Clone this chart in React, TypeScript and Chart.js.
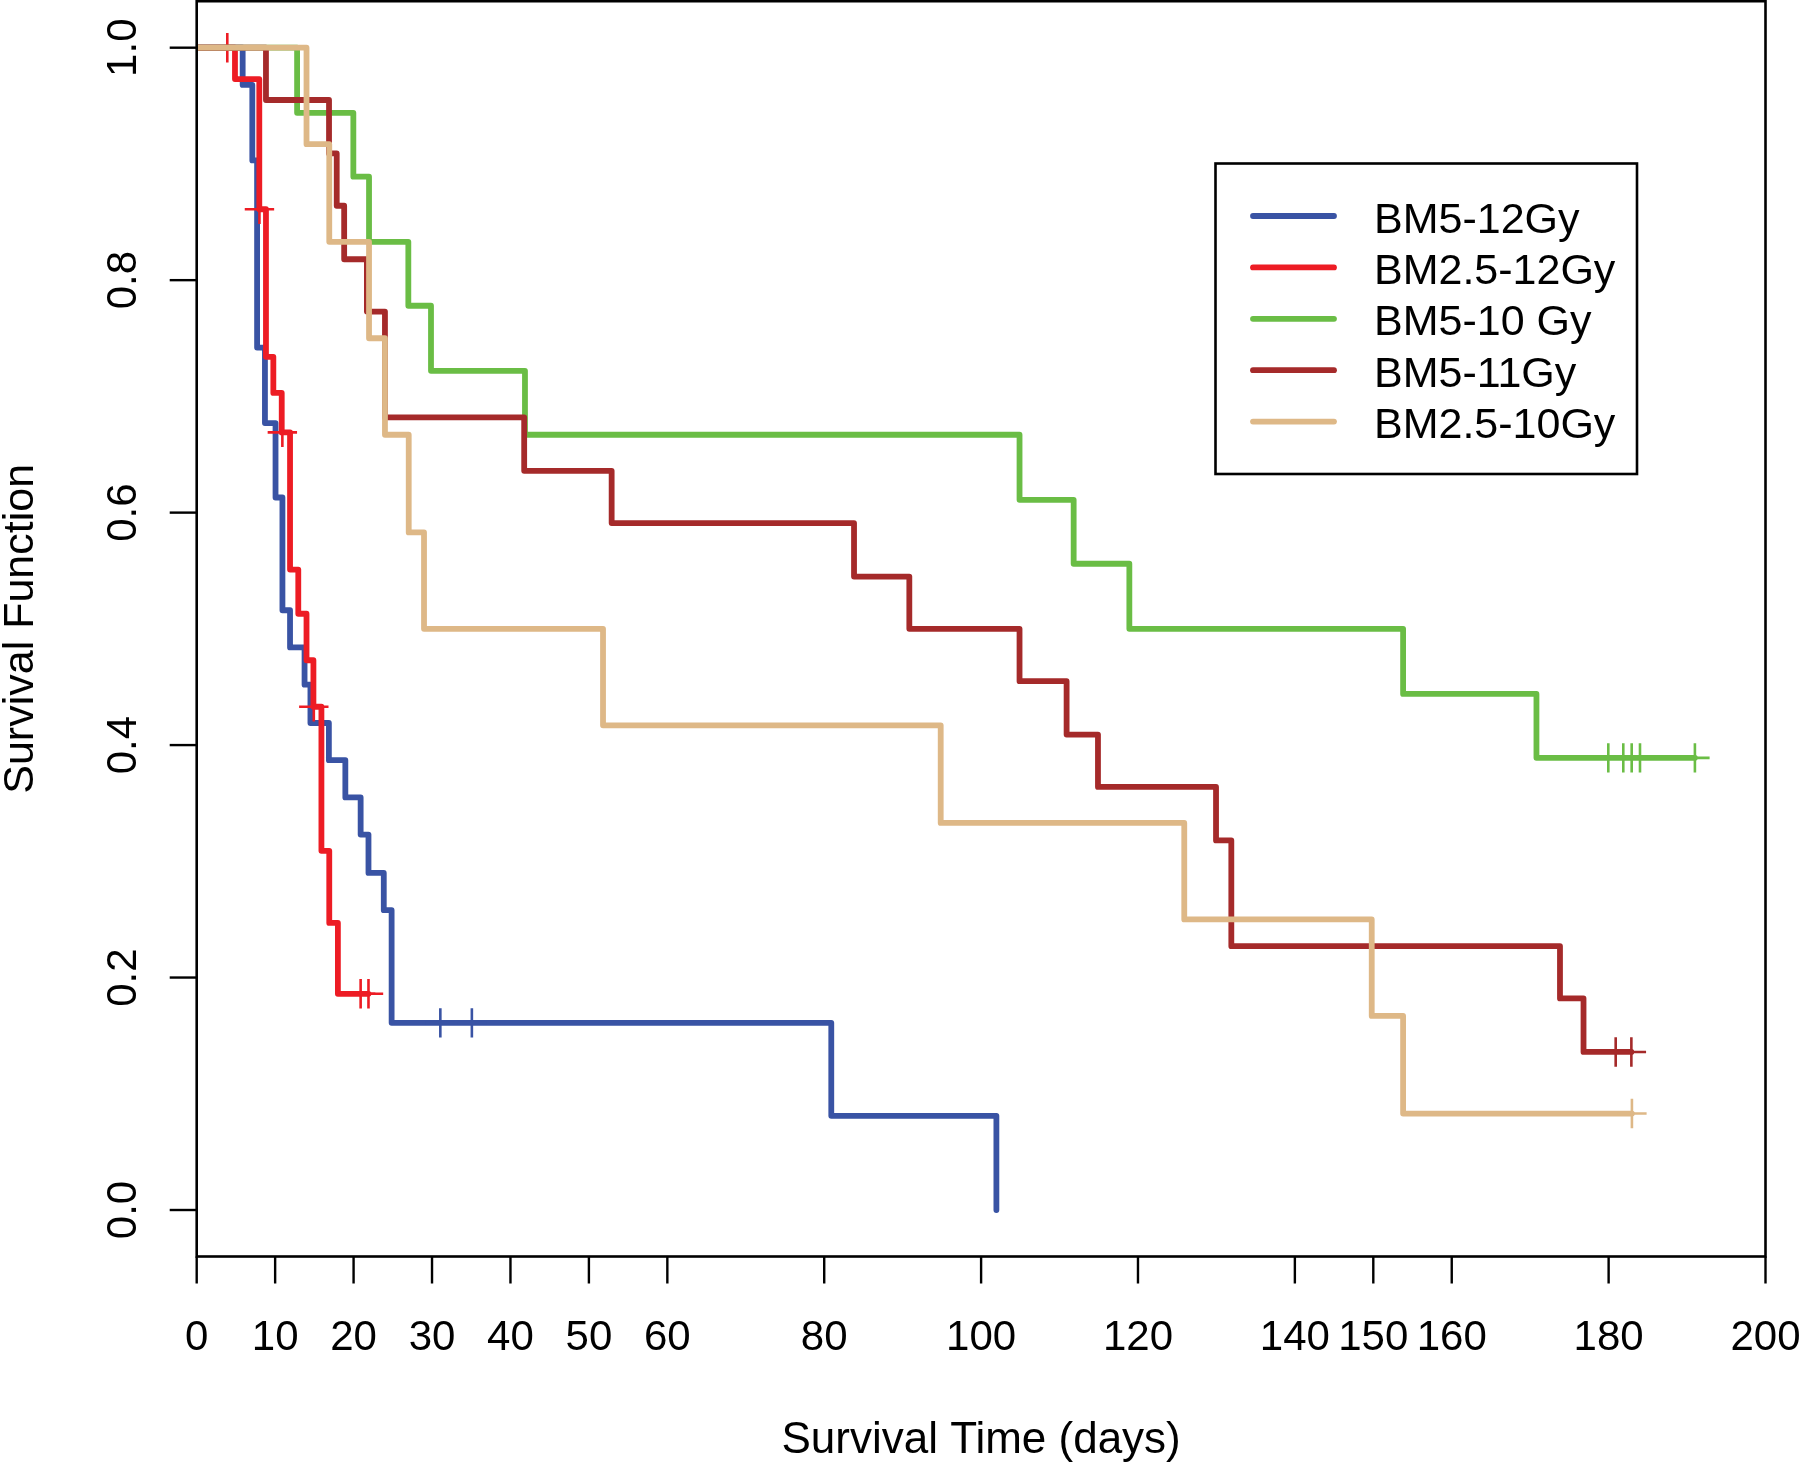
import React, { useEffect, useRef } from "react";
import { Chart, registerables } from "chart.js";

Chart.register(...registerables);

// ---------- data ----------
const seriesLabels = ["BM5-12Gy", "BM2.5-12Gy", "BM5-10 Gy", "BM5-11Gy", "BM2.5-10Gy"];
const seriesColors = ["#3953A4", "#ED1C24", "#6ABD45", "#A52A2A", "#DEB887"];

// BM5-12Gy
const bm512Time = [0, 5.86, 7.09, 7.7, 8.7, 10.05, 10.93, 11.9, 13.75, 14.5, 16.85, 18.95, 20.9, 21.9, 23.85, 24.85, 80.9, 101.95];
const bm512Surv = [1, 0.968, 0.903, 0.742, 0.677, 0.613, 0.516, 0.484, 0.452, 0.419, 0.387, 0.355, 0.323, 0.29, 0.258, 0.161, 0.081, 0];
const bm512CensorTime = [31.06, 35.08];
const bm512CensorSurv = [0.161, 0.161];

// BM2.5-12Gy
const bm2512Time = [0, 4.88, 7.98, 8.83, 9.77, 10.84, 11.9, 12.95, 14.0, 14.88, 15.9, 16.9, 18.0, 21.9];
const bm2512Surv = [1, 0.973, 0.861, 0.734, 0.703, 0.669, 0.551, 0.513, 0.473, 0.433, 0.309, 0.247, 0.186, 0.186];
const bm2512CensorTime = [3.9, 8.0, 10.92, 14.93, 20.9, 21.9];
const bm2512CensorSurv = [1, 0.861, 0.669, 0.433, 0.186, 0.186];

// BM5-10 Gy
const bm510Time = [0, 12.8, 19.97, 21.97, 26.98, 29.87, 41.85, 104.9, 111.8, 118.9, 153.8, 170.8, 191.0];
const bm510Surv = [1, 0.944, 0.889, 0.833, 0.778, 0.722, 0.667, 0.611, 0.556, 0.5, 0.444, 0.389, 0.389];
const bm510CensorTime = [179.96, 181.87, 182.94, 184.0, 191.0];
const bm510CensorSurv = [0.389, 0.389, 0.389, 0.389, 0.389];

// BM5-11Gy
const bm511Time = [0, 8.83, 16.87, 17.85, 18.8, 21.7, 24.0, 41.75, 52.9, 83.8, 90.85, 104.9, 110.9, 114.9, 129.95, 131.9, 173.8, 176.8, 182.9];
const bm511Surv = [1, 0.955, 0.909, 0.864, 0.818, 0.773, 0.682, 0.636, 0.591, 0.545, 0.5, 0.455, 0.409, 0.364, 0.318, 0.227, 0.182, 0.136, 0.136];
const bm511CensorTime = [180.9, 182.9];
const bm511CensorSurv = [0.136, 0.136];

// BM2.5-10Gy
const bm2510Time = [0, 14.0, 16.9, 21.97, 24.0, 27.03, 28.98, 51.8, 94.85, 125.9, 149.8, 153.8, 182.97];
const bm2510Surv = [1, 0.917, 0.833, 0.75, 0.667, 0.583, 0.5, 0.417, 0.333, 0.25, 0.167, 0.083, 0.083];
const bm2510CensorTime = [182.97];
const bm2510CensorSurv = [0.083];

const xTicks = [0, 10, 20, 30, 40, 50, 60, 80, 100, 120, 140, 150, 160, 180, 200];
const yTicks = [0, 0.2, 0.4, 0.6, 0.8, 1.0];
const yTickLabels = ["0.0", "0.2", "0.4", "0.6", "0.8", "1.0"];
const xTitle = "Survival Time (days)";
const yTitle = "Survival Function";

// ---------- helpers ----------
const FONT = '"Liberation Sans", Arial, Helvetica, sans-serif';

const zip = (xs: number[], ys: number[]) => xs.map((x, i) => ({ x, y: ys[i] }));

const curves = [
  { t: bm512Time, s: bm512Surv, ct: bm512CensorTime, cs: bm512CensorSurv },
  { t: bm2512Time, s: bm2512Surv, ct: bm2512CensorTime, cs: bm2512CensorSurv },
  { t: bm510Time, s: bm510Surv, ct: bm510CensorTime, cs: bm510CensorSurv },
  { t: bm511Time, s: bm511Surv, ct: bm511CensorTime, cs: bm511CensorSurv },
  { t: bm2510Time, s: bm2510Surv, ct: bm2510CensorTime, cs: bm2510CensorSurv },
];

const rPlotPlugin = {
  id: "rPlot",
  afterDraw(chart: any) {
    const ctx: CanvasRenderingContext2D = chart.ctx;
    const { left, right, top, bottom } = chart.chartArea;
    const xs = chart.scales.x;
    const ys = chart.scales.y;
    ctx.save();
    ctx.strokeStyle = "#000";
    ctx.fillStyle = "#000";
    ctx.lineCap = "butt";

    // box
    ctx.lineWidth = 2.6;
    ctx.strokeRect(left, top, right - left, bottom - top);

    // x ticks
    ctx.lineWidth = 2.4;
    ctx.font = `42px ${FONT}`;
    ctx.textAlign = "center";
    ctx.textBaseline = "alphabetic";
    xTicks.forEach((v) => {
      const px = xs.getPixelForValue(v);
      ctx.beginPath();
      ctx.moveTo(px, bottom);
      ctx.lineTo(px, bottom + 27);
      ctx.stroke();
      ctx.fillText(String(v), px, 1350);
    });

    // y ticks
    yTicks.forEach((v, i) => {
      const py = ys.getPixelForValue(v);
      ctx.beginPath();
      ctx.moveTo(left, py);
      ctx.lineTo(left - 27, py);
      ctx.stroke();
      ctx.save();
      ctx.translate(136, py);
      ctx.rotate(-Math.PI / 2);
      ctx.textAlign = "center";
      ctx.fillText(yTickLabels[i], 0, 0);
      ctx.restore();
    });

    // axis titles
    ctx.font = `44px ${FONT}`;
    ctx.textAlign = "center";
    ctx.fillText(xTitle, (left + right) / 2, 1453);
    ctx.save();
    ctx.translate(33, (top + bottom) / 2);
    ctx.rotate(-Math.PI / 2);
    ctx.font = `43px ${FONT}`;
    ctx.fillText(yTitle, 0, 0);
    ctx.restore();

    // legend
    const bx0 = 1215.5, by0 = 163.5, bx1 = 1637, by1 = 474;
    ctx.lineWidth = 2.6;
    ctx.strokeRect(bx0, by0, bx1 - bx0, by1 - by0);
    ctx.font = `43px ${FONT}`;
    ctx.textAlign = "left";
    seriesLabels.forEach((lab, i) => {
      const cy = 216 + i * 51.4;
      ctx.strokeStyle = seriesColors[i];
      ctx.lineWidth = 5.8;
      ctx.lineCap = "round";
      ctx.beginPath();
      ctx.moveTo(1253, cy);
      ctx.lineTo(1334, cy);
      ctx.stroke();
      ctx.fillStyle = "#000";
      ctx.fillText(lab, 1374, cy + 16.5);
    });
    ctx.restore();
  },
};

export default function App() {
  const ref = useRef<HTMLCanvasElement | null>(null);

  useEffect(() => {
    if (!ref.current) return;
    const datasets: any[] = [];
    // draw order: tan on top, then dark red, green, red, blue at bottom
    const orderOf = [5, 4, 3, 2, 1];
    curves.forEach((c, i) => {
      datasets.push({
        type: "line",
        label: seriesLabels[i],
        data: zip(c.t, c.s),
        borderColor: seriesColors[i],
        backgroundColor: seriesColors[i],
        borderWidth: 5.8,
        borderCapStyle: "round",
        borderJoinStyle: "round",
        stepped: "before",
        pointRadius: 0,
        pointHoverRadius: 0,
        fill: false,
        order: orderOf[i],
      });
      datasets.push({
        type: "line",
        label: seriesLabels[i] + " censored",
        data: zip(c.ct, c.cs),
        showLine: false,
        pointStyle: "cross",
        pointRadius: 14.7,
        pointHoverRadius: 14.7,
        pointBorderWidth: 2.6,
        pointBorderColor: seriesColors[i],
        pointBackgroundColor: seriesColors[i],
        borderColor: seriesColors[i],
        order: orderOf[i] - 0.5,
      });
    });

    const chart = new Chart(ref.current, {
      type: "line",
      data: { datasets },
      options: {
        responsive: false,
        animation: false,
        layout: { autoPadding: false, padding: { left: 196.7, right: 34.5, top: 1.2, bottom: 206.5 } },
        scales: {
          x: { type: "linear", min: 0, max: 200, display: false },
          y: { type: "linear", min: -0.04, max: 1.04, display: false },
        },
        plugins: {
          legend: { display: false },
          tooltip: { enabled: false },
        },
        events: [],
      },
      plugins: [rPlotPlugin],
    } as any);
    return () => chart.destroy();
  }, []);

  return (
    <div style={{ position: "absolute", left: 0, top: 0, width: 1800, height: 1463, background: "#fff" }}>
      <canvas ref={ref} width={1800} height={1463} style={{ display: "block", width: 1800, height: 1463 }} />
    </div>
  );
}
